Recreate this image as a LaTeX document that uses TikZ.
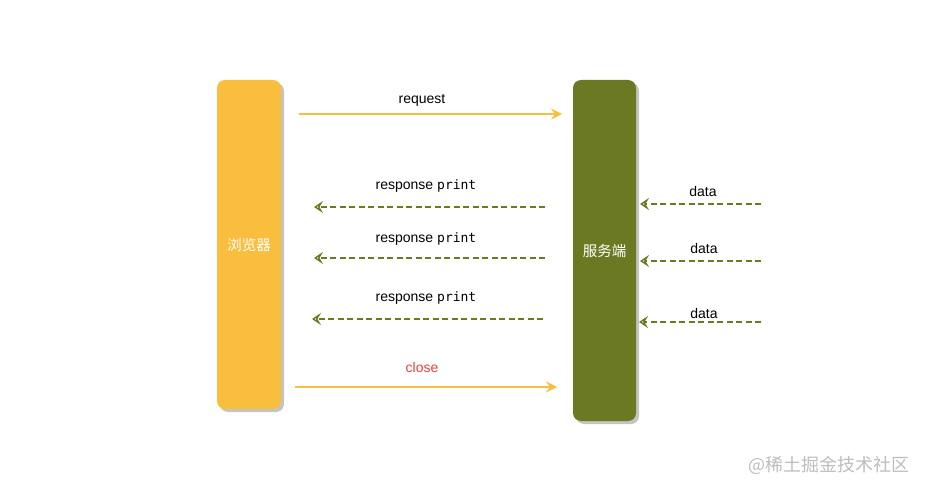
\documentclass[tikz,border=0pt]{standalone}
\usepackage{fontspec}
\setmainfont{Liberation Sans}
\setmonofont{DejaVu Sans Mono}
\newfontfamily\cjk{Noto Sans CJK SC}
\usetikzlibrary{arrows.meta}
\definecolor{brw}{HTML}{F9BE3E}
\definecolor{srv}{HTML}{6B7A22}
\definecolor{shd}{HTML}{C4C4C4}
\definecolor{wm}{HTML}{BDBDBD}
\definecolor{closered}{HTML}{E8403A}
\tikzset{
  lane/.style={rounded corners=8pt, inner sep=0pt, minimum width=64pt, text=white, font=\cjk\fontsize{14.5}{16}\selectfont},
  solidarrow/.style={draw=brw, line width=1.6pt, -{Stealth[length=11pt,width=11pt,inset=4pt]}},
  dasharrow/.style={draw=srv, line width=2.3pt, dash pattern=on 6pt off 3.5pt, -{Stealth[open,length=9pt,width=12pt,inset=3.5pt,line width=2.3pt]}},
  lbl/.style={font=\fontsize{14}{16}\selectfont, text=black, inner sep=0pt},
}
\begin{document}
\begin{tikzpicture}[x=1pt,y=-1pt]
\useasboundingbox (0,0) rectangle (926,492);
% shadows
\fill[shd, rounded corners=8pt] (220,83) rectangle (284,412);
\fill[shd, rounded corners=8pt] (576,83) rectangle (639,424);
% lanes
\node[lane, fill=brw, minimum height=329pt, minimum width=64pt] (browser) at (249,244.5) {浏览器};
\node[lane, fill=srv, minimum height=341pt, minimum width=63pt] (server) at (604.5,250.5) {服务端};
% coordinates
\coordinate (rqA) at (299,114); \coordinate (rqB) at (562,114);
\coordinate (r1A) at (545,207); \coordinate (r1B) at (314,207);
\coordinate (r2A) at (545,258); \coordinate (r2B) at (314,258);
\coordinate (r3A) at (543,319); \coordinate (r3B) at (312,319);
\coordinate (clA) at (295,387); \coordinate (clB) at (557,387);
\coordinate (d1A) at (761,204); \coordinate (d1B) at (640,204);
\coordinate (d2A) at (761,261); \coordinate (d2B) at (640,261);
\coordinate (d3A) at (761,322); \coordinate (d3B) at (639,322);
% arrows
\draw[solidarrow] (rqA) -- (rqB);
\draw[dasharrow] (r1A) -- (r1B);
\draw[dasharrow] (r2A) -- (r2B);
\draw[dasharrow] (r3A) -- (r3B);
\draw[solidarrow] (clA) -- (clB);
\draw[dasharrow] (d1A) -- (d1B);
\draw[dasharrow] (d2A) -- (d2B);
\draw[dasharrow] (d3A) -- (d3B);
% labels
\node[lbl] (lrq) at (422,100.5) {request};
\node[lbl] (lr1) at (426,186.5) {response {\ttfamily\fontsize{13}{15}\selectfont print}};
\node[lbl] (lr2) at (426,239.5) {response {\ttfamily\fontsize{13}{15}\selectfont print}};
\node[lbl] (lr3) at (426,298.5) {response {\ttfamily\fontsize{13}{15}\selectfont print}};
\node[lbl, text=closered] (lcl) at (422,367) {close};
\node[lbl] (ld1) at (703,191) {data};
\node[lbl] (ld2) at (704,248) {data};
\node[lbl] (ld3) at (704,313) {data};
% watermark
\node[inner sep=0pt, text=wm, font=\cjk\fontsize{18}{20}\selectfont] (wmk) at (829,465) {@稀土掘金技术社区};
\end{tikzpicture}
\end{document}
